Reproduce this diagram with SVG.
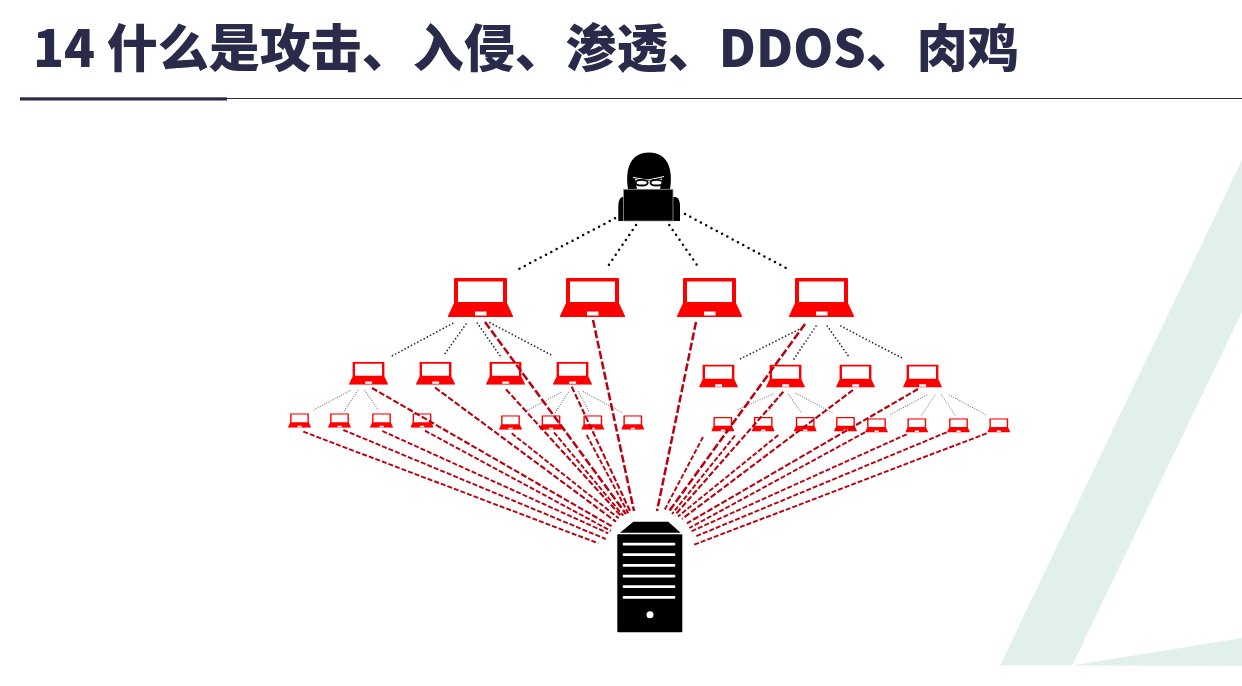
<svg xmlns="http://www.w3.org/2000/svg" width="1242" height="686" viewBox="0 0 1242 686">
<style>
.title{font-family:"Noto Sans CJK SC","Noto Sans",sans-serif;font-weight:900;font-size:51px;fill:#2a2a4a}
line{fill:none}
.d1{stroke:#000;stroke-width:2.5;stroke-linecap:round;stroke-dasharray:0 6}
.d2{stroke:#222;stroke-width:1.7;stroke-linecap:round;stroke-dasharray:0 3.6}
.d3{stroke:#777;stroke-width:1.2;stroke-linecap:round;stroke-dasharray:0 2.4}
.r1{stroke:#bb0010;stroke-width:2.5;stroke-dasharray:8 2.6}
.r2{stroke:#bb0010;stroke-width:2.1;stroke-dasharray:6 2.2}
.r3{stroke:#bb0010;stroke-width:1.9;stroke-dasharray:5 2}
.lap{fill:#f00}
</style>
<defs>
<symbol id="laptop" viewBox="0 0 65 39" preserveAspectRatio="none">
<path class="lap" fill-rule="evenodd" d="M7 0H58Q59 0 59 1V25L65 38V39H0V38L6 25V1Q6 0 7 0ZM10 3.5V24H55V3.5ZM27 33.6V37.6H38.5V33.6Z"/>
</symbol>
</defs>
<rect width="1242" height="686" fill="#fff"/>
<g id="background">
<path d="M1242 160L1000 665.500L1072 665.500L1242 312ZM1072 665.500L1242 638V666Z" fill="#e1f0eb"/>
</g>
<g id="header">
<text class="title" x="33" y="67">14 什么是攻击、入侵、渗透、DDOS、肉鸡</text>
<rect x="20" y="97.300" width="207" height="3.200" fill="#2a2a4a"/>
<rect x="227" y="98" width="1015" height="1" fill="#2a2a4a"/>
</g>
<g id="hacker">
<path d="M628.500 192C625 175 627 152.500 649 152.500C671 152.500 673 175 669.500 192Z" fill="#000"/>
<path d="M618.300 221V206Q618.300 199 622 197L676 197Q680 199 680 206V221Z" fill="#000"/>
<path d="M635 179L648 181L662 178.500L660 189H637Z" fill="#fff"/>
<path d="M633 177.500L648 180L664 176.500" fill="none" stroke="#fff" stroke-width="1"/>
<ellipse cx="641.700" cy="182.700" rx="6" ry="2.800" fill="#fff" stroke="#000" stroke-width="1.800"/>
<ellipse cx="656.500" cy="182.700" rx="6" ry="2.800" fill="#fff" stroke="#000" stroke-width="1.800"/>
<rect x="623.500" y="189.300" width="49.500" height="31.700" fill="#000" stroke="#999" stroke-width="0.800"/>
</g>
<g id="server">
<path d="M620 532.700L633.300 521.700H668.300L680.700 532.700Z" fill="#000"/>
<rect x="617.300" y="534.300" width="65" height="98" rx="1" fill="#000"/>
<g fill="#fff">
<rect x="622.700" y="542.700" width="52.600" height="2.800" rx="1"/>
<rect x="622.700" y="553.300" width="52.600" height="2.800" rx="1"/>
<rect x="622.700" y="564" width="52.600" height="2.800" rx="1"/>
<rect x="622.700" y="574.700" width="52.600" height="2.800" rx="1"/>
<rect x="622.700" y="585.300" width="52.600" height="2.800" rx="1"/>
<rect x="622.700" y="596" width="52.600" height="2.800" rx="1"/>
<circle cx="650" cy="614.700" r="3.500"/>
</g>
</g>
<g id="laptops-large">
<g id="L1"><use href="#laptop" x="448" y="278" width="65" height="39"/></g>
<g id="L2"><use href="#laptop" x="560" y="278" width="65" height="39"/></g>
<g id="L3"><use href="#laptop" x="677" y="278" width="65" height="39"/></g>
<g id="L4"><use href="#laptop" x="789" y="278" width="65" height="39"/></g>
</g>
<g id="laptops-medium">
<g id="m1"><use href="#laptop" x="349" y="361.700" width="39" height="23"/></g>
<g id="m2"><use href="#laptop" x="416" y="361.700" width="39" height="23"/></g>
<g id="m3"><use href="#laptop" x="486" y="361.700" width="39" height="23"/></g>
<g id="m4"><use href="#laptop" x="553" y="361.700" width="39" height="23"/></g>
<g id="m5"><use href="#laptop" x="699" y="364.500" width="39" height="23"/></g>
<g id="m6"><use href="#laptop" x="766" y="364.500" width="39" height="23"/></g>
<g id="m7"><use href="#laptop" x="836" y="364.500" width="39" height="23"/></g>
<g id="m8"><use href="#laptop" x="903" y="364.500" width="39" height="23"/></g>
</g>
<g id="laptops-small">
<g id="s1"><use href="#laptop" x="288" y="413.300" width="23" height="14.400"/></g>
<g id="s2"><use href="#laptop" x="328" y="413.300" width="23" height="14.400"/></g>
<g id="s3"><use href="#laptop" x="370" y="413.300" width="23" height="14.400"/></g>
<g id="s4"><use href="#laptop" x="410.500" y="413.300" width="23" height="14.400"/></g>
<g id="s5"><use href="#laptop" x="499" y="415.300" width="23" height="14.400"/></g>
<g id="s6"><use href="#laptop" x="539.500" y="415.300" width="23" height="14.400"/></g>
<g id="s7"><use href="#laptop" x="581.300" y="415.300" width="23" height="14.400"/></g>
<g id="s8"><use href="#laptop" x="621.300" y="415.300" width="23" height="14.400"/></g>
<g id="s9"><use href="#laptop" x="711.300" y="417" width="23" height="14.400"/></g>
<g id="s10"><use href="#laptop" x="751.700" y="417" width="23" height="14.400"/></g>
<g id="s11"><use href="#laptop" x="793.700" y="417" width="23" height="14.400"/></g>
<g id="s12"><use href="#laptop" x="834" y="417" width="23" height="14.400"/></g>
<g id="s13"><use href="#laptop" x="865" y="418.200" width="23" height="14.400"/></g>
<g id="s14"><use href="#laptop" x="905.300" y="418.200" width="23" height="14.400"/></g>
<g id="s15"><use href="#laptop" x="947" y="418.200" width="23" height="14.400"/></g>
<g id="s16"><use href="#laptop" x="987.300" y="418.200" width="23" height="14.400"/></g>
</g>
<g id="connectors">
<line class="d1" x1="615" y1="218.300" x2="518" y2="269.500"/>
<line class="d1" x1="636" y1="225" x2="606.700" y2="268"/>
<line class="d1" x1="669.300" y1="225" x2="699" y2="268"/>
<line class="d1" x1="685" y1="214" x2="788" y2="269"/>
<line class="d2" x1="452.700" y1="323.300" x2="390" y2="357"/>
<line class="d2" x1="466" y1="324" x2="443.300" y2="356"/>
<line class="d2" x1="477.300" y1="323" x2="500" y2="355.700"/>
<line class="d2" x1="490" y1="322.700" x2="552.700" y2="355.700"/>
<line class="d2" x1="801.700" y1="328" x2="740" y2="359"/>
<line class="d2" x1="816" y1="326" x2="794" y2="359"/>
<line class="d2" x1="827.300" y1="326" x2="850" y2="358.300"/>
<line class="d2" x1="840.700" y1="326" x2="904" y2="359"/>
<line class="d3" x1="350" y1="390.700" x2="312.300" y2="410.700"/>
<line class="d3" x1="357.700" y1="390.700" x2="344.300" y2="410.700"/>
<line class="d3" x1="365" y1="390.700" x2="378.300" y2="410"/>
<line class="d3" x1="561" y1="392.300" x2="526.700" y2="410.700"/>
<line class="d3" x1="568.300" y1="392.300" x2="555" y2="412.700"/>
<line class="d3" x1="578.300" y1="391.700" x2="589.300" y2="411.700"/>
<line class="d3" x1="583.300" y1="391.700" x2="621.700" y2="412.300"/>
<line class="d3" x1="773.300" y1="394" x2="736.700" y2="410"/>
<line class="d3" x1="780.700" y1="395" x2="768.300" y2="411.700"/>
<line class="d3" x1="788.300" y1="394" x2="801.700" y2="413.300"/>
<line class="d3" x1="796" y1="393.300" x2="833.300" y2="413.300"/>
<line class="d3" x1="926.700" y1="395" x2="889.300" y2="415"/>
<line class="d3" x1="935" y1="395" x2="921.700" y2="415"/>
<line class="d3" x1="941.700" y1="395" x2="955" y2="415"/>
<line class="d3" x1="949.300" y1="395" x2="986.700" y2="415"/>
<line class="r1" x1="485" y1="322" x2="626" y2="514"/>
<line class="r1" x1="593" y1="320" x2="634" y2="511"/>
<line class="r1" x1="696" y1="322" x2="657" y2="511"/>
<line class="r1" x1="805" y1="324" x2="668" y2="512.700"/>
<line class="r2" x1="372" y1="388" x2="613" y2="527"/>
<line class="r2" x1="435" y1="387.500" x2="616" y2="521.700"/>
<line class="r2" x1="506" y1="389.300" x2="621.700" y2="516.700"/>
<line class="r2" x1="571.700" y1="386.700" x2="630.700" y2="512.500"/>
<line class="r2" x1="783.300" y1="391.700" x2="675" y2="515"/>
<line class="r2" x1="853" y1="390" x2="682" y2="519"/>
<line class="r2" x1="918" y1="389" x2="687" y2="523.300"/>
<line class="r3" x1="303.300" y1="431.700" x2="598.300" y2="543.300"/>
<line class="r3" x1="343.300" y1="430" x2="605.700" y2="539"/>
<line class="r3" x1="382.300" y1="431" x2="608.300" y2="533.300"/>
<line class="r3" x1="425" y1="430.700" x2="611" y2="531"/>
<line class="r3" x1="511.700" y1="433.300" x2="618.700" y2="518.300"/>
<line class="r3" x1="554" y1="432.300" x2="623.300" y2="515.700"/>
<line class="r3" x1="586.700" y1="435" x2="628.300" y2="513.300"/>
<line class="r3" x1="703" y1="437" x2="664" y2="511"/>
<line class="r3" x1="735" y1="435.500" x2="672" y2="514"/>
<line class="r3" x1="778.300" y1="435" x2="678" y2="516.500"/>
<line class="r3" x1="865" y1="432.300" x2="689.300" y2="528"/>
<line class="r3" x1="906.700" y1="434.300" x2="691" y2="531.500"/>
<line class="r3" x1="946.700" y1="432.300" x2="695" y2="536.700"/>
<line class="r3" x1="986.700" y1="433.300" x2="693.300" y2="545"/>
</g>
</svg>
